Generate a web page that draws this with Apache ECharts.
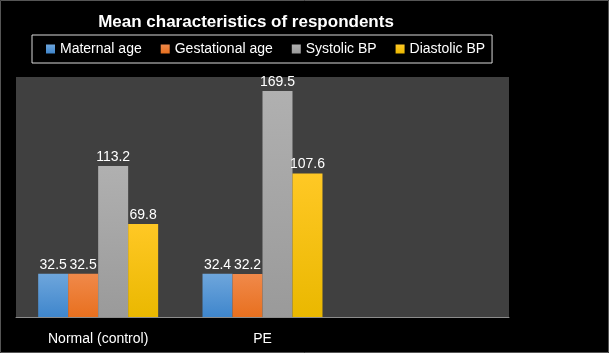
<!DOCTYPE html>
<html>
<head>
<meta charset="utf-8">
<script src="https://cdn.jsdelivr.net/npm/echarts@6/dist/echarts.min.js"></script>
<style>
html, body { margin: 0; padding: 0; background: #000; }
#chartmain { width: 609px; height: 353px; }
</style>
</head>
<body>
<div id="chartmain"></div>
<script>
// 数据
var categories = ['Normal (control)', 'PE', ''];
var seriesNames = ['Maternal age', 'Gestational age', 'Systolic BP', 'Diastolic BP'];
var maternalAge = [32.5, 32.4, null];
var gestationalAge = [32.5, 32.2, null];
var systolicBP = [113.2, 169.5, null];
var diastolicBP = [69.8, 107.6, null];
var values = [maternalAge, gestationalAge, systolicBP, diastolicBP];

var colorsTop = ['#6ea6dc', '#f0894a', '#b0b0b0', '#ffc825'];
var colorsBottom = ['#3f86cc', '#e8701f', '#9a9a9a', '#eab800'];

var chart = echarts.init(document.getElementById('chartmain'));

var series = seriesNames.map(function (name, i) {
    return {
        name: name,
        type: 'bar',
        data: values[i],
        barGap: '0%',
        barCategoryGap: '27%',
        itemStyle: {
            color: new echarts.graphic.LinearGradient(0, 0, 0, 1, [
                {offset: 0, color: colorsTop[i]},
                {offset: 1, color: colorsBottom[i]}
            ])
        },
        label: {
            show: true,
            position: 'top',
            distance: 2,
            color: '#fff',
            fontSize: 14,
            fontFamily: 'Liberation Sans'
        }
    };
});

option = {
    backgroundColor: '#000',
    animation: false,
    color: colorsTop,
    title: {
        text: 'Mean characteristics of respondents',
        left: 241,
        textAlign: 'center',
        top: 9,
        textStyle: {
            color: '#fff',
            fontSize: 17,
            fontWeight: 'bold',
            fontFamily: 'Liberation Sans'
        }
    },
    legend: {
        data: seriesNames,
        left: 32,
        top: 35,
        borderColor: '#d9d9d9',
        borderWidth: 1,
        padding: [7, 7, 7, 14],
        itemWidth: 9,
        itemHeight: 9,
        itemGap: 19,
        icon: 'rect',
        textStyle: {
            color: '#fff',
            fontSize: 14,
            fontFamily: 'Liberation Sans'
        }
    },
    graphic: [{
        type: 'rect',
        shape: {x: 0.5, y: 0.5, width: 608, height: 352},
        style: {fill: 'none', stroke: '#555', lineWidth: 1},
        silent: true
    }],
    grid: {
        left: 16,
        right: 100,
        top: 77,
        bottom: 36,
        show: true,
        backgroundColor: '#404040',
        borderWidth: 0
    },
    xAxis: {
        type: 'category',
        data: categories,
        axisLine: {lineStyle: {color: '#8c8c8c'}},
        axisTick: {show: false},
        axisLabel: {
            color: '#fff',
            fontSize: 14,
            margin: 15,
            fontFamily: 'Liberation Sans'
        }
    },
    yAxis: {
        type: 'value',
        min: 0,
        max: 180,
        show: false
    },
    series: series
};

chart.setOption(option);
</script>
</body>
</html>
